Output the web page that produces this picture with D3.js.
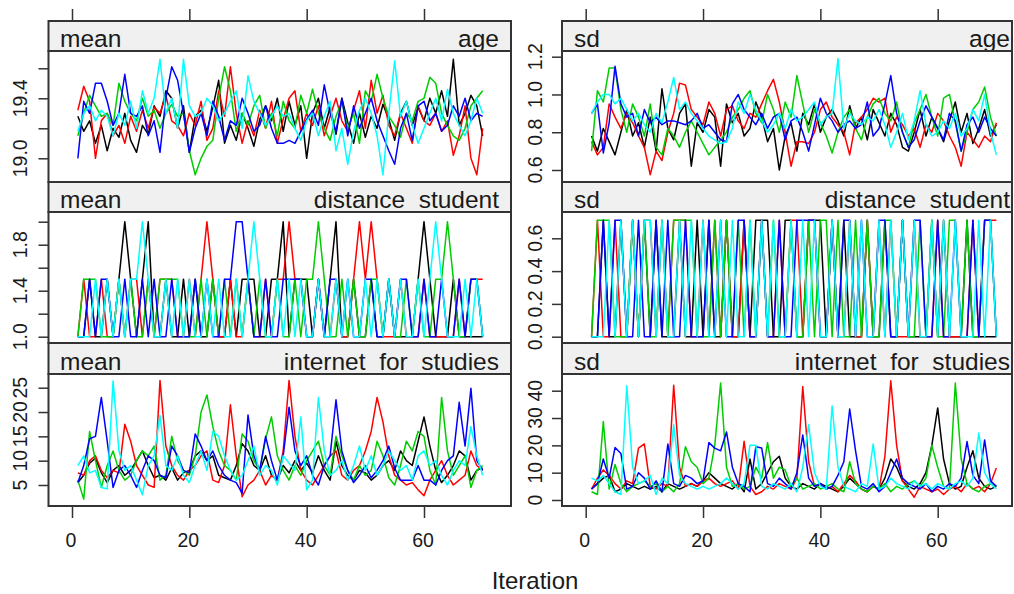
<!DOCTYPE html>
<html>
<head>
<meta charset="utf-8">
<script src="https://cdn.jsdelivr.net/npm/d3@7"></script>
<style>
  body { margin: 0; background: #fff; }
  text { font-family: "Liberation Sans", Arial, sans-serif; fill: #1a1a1a; }
</style>
</head>
<body>
<div id="chart"></div>
<script>
// chains: black, red, green, blue, cyan (R's old default palette)
const chainColors = ['#000000', '#ff0000', '#00cd00', '#0000ff', '#00ffff'];

const xTicks = [0, 20, 40, 60];
const statNames = ['mean', 'sd'];
const varNames = ['age', 'distance  student', 'internet  for  studies'];

// mean of age, one array per chain (iterations 1..70)
const meanAge = [
  [19.28,19.18,19.25,19.10,19.22,19.05,19.20,19.14,19.30,19.12, 19.04,19.22,19.16,19.35,19.28,19.45,19.40,19.20,19.35,19.04,
   19.28,19.32,19.18,19.34,19.52,19.10,19.22,19.12,19.30,19.20, 19.08,19.26,19.35,19.25,19.40,19.18,19.38,19.22,19.35,19.00,
   19.30,19.40,19.20,19.34,19.16,19.40,19.24,19.10,19.30,19.14, 19.28,19.20,19.36,19.26,19.12,19.30,19.38,19.22,19.34,19.25,
   19.40,19.30,19.45,19.28,19.66,19.22,19.30,19.42,19.35,19.15],
  [19.32,19.48,19.38,19.00,19.25,19.30,19.15,19.22,19.10,19.28, 19.18,19.32,19.20,19.34,19.30,19.42,19.25,19.22,19.15,19.30,
   19.22,19.38,19.12,19.20,19.45,19.28,19.61,19.30,19.10,19.25, 19.15,19.32,19.20,19.38,19.10,19.26,19.40,19.45,19.18,19.30,
   19.22,19.35,19.15,19.28,19.40,19.25,19.18,19.32,19.45,19.20, 19.52,19.30,19.42,19.22,19.15,19.30,19.20,19.10,19.35,19.25,
   19.22,19.30,19.18,19.25,19.02,19.15,19.35,19.00,18.89,19.20],
  [19.15,19.30,19.42,19.35,19.28,19.30,19.22,19.50,19.38,19.30, 19.25,19.40,19.28,19.32,19.20,19.30,19.36,19.28,19.30,19.05,
   18.89,19.00,19.08,19.12,19.40,19.61,19.45,19.18,19.30,19.22, 19.35,19.42,19.20,19.30,19.15,19.38,19.25,19.20,19.42,19.30,
   19.46,19.30,19.20,19.12,19.28,19.38,19.20,19.30,19.10,19.45, 19.38,19.56,19.40,19.28,19.22,19.14,19.30,19.25,19.38,19.40,
   19.54,19.50,19.30,19.22,19.15,19.12,19.20,19.35,19.40,19.45],
  [19.00,19.38,19.30,19.50,19.50,19.38,19.22,19.30,19.56,19.30, 19.28,19.35,19.15,19.25,19.04,19.40,19.61,19.52,19.30,19.04,
   19.20,19.30,19.15,19.38,19.28,19.12,19.25,19.22,19.40,19.30, 19.18,19.22,19.35,19.20,19.10,19.10,19.12,19.10,19.18,19.26,
   19.32,19.22,19.49,19.30,19.18,19.40,19.15,19.35,19.20,19.30, 19.40,19.25,19.15,19.05,18.96,19.20,19.30,19.12,19.35,19.38,
   19.25,19.30,19.18,19.22,19.35,19.28,19.40,19.25,19.30,19.28],
  [19.18,19.30,19.35,19.25,19.32,19.28,19.15,19.30,19.22,19.38, 19.20,19.45,19.30,19.40,19.66,19.30,19.40,19.20,19.66,19.35,
   19.28,19.30,19.40,19.35,19.25,19.30,19.38,19.45,19.20,19.55, 19.38,19.30,19.22,19.28,19.35,19.28,19.30,19.20,19.12,19.25,
   19.30,19.15,19.28,19.38,19.05,19.20,18.96,19.18,19.32,19.40, 19.30,19.15,18.89,19.30,19.65,19.28,19.38,19.22,19.10,19.20,
   19.30,19.40,19.25,19.46,19.30,19.22,19.15,19.25,19.40,19.30]
];

// sd of age
const sdAge = [
  [0.78,0.70,0.82,0.75,0.68,0.80,0.92,0.78,0.85,0.72, 0.88,0.70,1.03,0.82,0.76,0.90,0.95,0.62,0.85,0.80,
   0.92,0.88,0.62,0.95,0.85,0.90,0.78,0.82,0.96,0.88, 0.75,0.82,0.60,0.78,0.85,0.70,0.90,0.84,0.95,0.80,
   0.88,0.92,0.86,0.78,0.94,0.82,0.88,0.76,0.92,0.85, 0.78,0.90,0.84,0.72,0.70,0.80,0.92,0.78,0.88,0.82,
   0.75,0.86,0.96,0.80,0.90,0.74,0.82,0.92,0.78,0.84],
  [0.75,0.68,0.72,0.95,0.88,0.82,0.90,0.85,0.78,0.72, 0.575,0.70,0.65,0.80,0.90,1.06,1.05,0.92,0.88,0.84,
   0.96,0.90,0.78,0.92,0.94,0.86,0.82,0.90,0.88,0.95, 1.02,1.08,0.96,0.80,0.62,0.75,0.75,0.74,0.80,0.92,
   0.96,0.88,0.84,0.80,0.68,0.85,0.88,0.92,0.98,0.96, 0.98,0.80,0.88,0.84,0.78,0.82,0.72,0.84,0.80,0.90,
   0.86,0.78,0.72,0.62,0.80,0.76,0.72,0.78,0.75,0.85],
  [0.70,1.02,0.96,1.14,1.14,0.92,0.80,0.95,0.88,0.78, 0.95,0.72,0.68,0.82,0.78,0.72,0.80,0.86,0.80,0.74,
   0.68,0.72,0.76,0.80,0.88,0.92,0.98,1.02,0.90,0.85, 1.00,0.92,0.80,0.96,0.88,1.10,0.95,0.80,0.92,0.85,
   0.78,0.69,0.80,0.88,0.92,0.82,0.76,0.88,0.95,0.98, 0.90,0.86,0.96,0.80,0.72,0.85,0.92,1.00,0.88,0.78,
   0.98,1.00,0.85,0.70,0.80,0.92,0.96,1.04,0.88,0.78],
  [0.90,0.95,0.69,0.85,1.15,0.95,0.88,0.90,0.78,0.92, 0.85,0.88,0.84,0.86,0.86,0.85,0.84,0.86,0.90,0.82,
   0.84,0.80,0.76,0.75,0.95,1.00,0.92,0.88,0.84,0.90, 0.82,0.88,0.90,0.76,0.86,0.88,0.80,0.70,0.84,0.98,
   0.90,0.86,0.80,0.84,0.86,0.82,0.84,0.96,0.78,0.82, 0.95,1.10,0.90,0.80,0.72,0.76,0.86,0.94,0.88,0.82,
   0.76,0.90,0.86,0.70,0.84,0.88,0.80,0.88,0.82,0.78],
  [0.90,0.96,1.00,1.00,0.95,0.98,0.92,0.86,0.90,0.84, 0.80,0.90,0.85,0.96,1.09,0.92,0.96,0.90,0.86,0.82,
   0.78,0.76,0.74,0.75,0.82,0.96,0.90,1.00,0.92,0.86, 0.80,0.84,0.90,0.82,0.92,0.86,0.88,0.92,0.96,0.84,
   0.88,0.90,1.19,0.82,0.90,0.86,0.84,0.88,0.86,0.92, 0.84,0.72,0.80,0.90,0.76,0.86,1.02,0.84,0.78,0.80,
   0.86,0.82,0.90,0.78,0.82,0.92,0.86,1.00,0.80,0.68]
];

// mean of distance student (two imputed values coded 1/2)
const meanDistance = [
  [1,1,1.5,1,1,1.5,1,1.5,2,1.5, 1,1.5,2,1,1,1.5,1,1,1.5,1, 1.5,1,1,1.5,1,1,1.5,1,1.5,1.5, 1.5,1,1,1.5,1.5,2,1,1.5,1.5,1.5,
   1,1.5,1,1.5,2,1,1,1.5,1,1, 1.5,1,1,1.5,1,1,1,1,1.5,2, 1.5,1,1,1,1.5,1,1,1,1,1],
  [1,1.5,1,1,1.5,1,1,1.5,1,1.5, 1.5,1,1.5,1,1.5,1.5,1.5,1,1,1.5, 1,1.5,2,1.5,1,1,1.5,1,1,1.5, 1,1,1.5,1,1.5,1.5,2,1.5,1.5,1,
   1,1.5,1,1,1.5,1,1,1.5,2,1.5, 2,1.5,1,1,1,1.5,1,1,1,1.5, 1,1,1,1,1,1.5,1,1.5,1.5,1.5],
  [1,1.5,1.5,1.5,1,1,1,1.5,1,1.5, 1,1,1.5,1,1.5,1.5,1.5,1.5,1,1, 1,1.5,1,1.5,1,1.5,1,1.5,1,1.5, 1,1.5,1,1,1.5,1,1,1.5,1,1.5,
   1.5,2,1.5,1,1,1.5,1,1.5,1,1, 1.5,1.5,1,1.5,1,1,1.5,1,1.5,1, 1,1.5,1.5,2,1.5,1,1,1.5,1.5,1],
  [1,1,1.5,1,1.5,1.5,1,1,1.5,1, 1,1.5,1,1.5,1,1,1.5,1,1,1, 1.5,1,1.5,1,1,1.5,1.5,2,2,1.5, 1,1,1.5,1,1,1.5,1.5,1.5,1.5,1,
   1,1.5,1,1.5,1.5,1,1.5,1,1,1.5, 1.5,1,1,1.5,1,1.5,1.5,1,1,1.5, 1,1,1.5,1,1,1.5,1,1.5,1.5,1],
  [1,1,1,1.5,1,1.5,1,1.5,1,1.5, 1.5,2,1.5,1,1,1.5,1,1.5,1,1.5, 1,1,1.5,1,1.5,1,1,1.5,1,1.5, 2,1.5,1,1,1.5,1,1.5,1,1.5,1,
   1,1.5,1,1,1.5,1,1.5,1,1,1.5, 1,1.5,1,1.5,1,1.5,1,1,1.5,1, 1.5,2,1.5,1,1,1,1.5,1,1.5,1]
];

// sd of distance student
const sdDistance = [
  [0,0,.71,0,0,.71,0,.71,0,.71, 0,.71,0,0,0,.71,0,0,.71,0, .71,0,0,.71,0,0,.71,0,.71,.71, .71,0,0,.71,.71,0,0,.71,.71,.71,
   0,.71,0,.71,0,0,0,.71,0,0, .71,0,0,.71,0,0,0,0,.71,0, .71,0,0,0,.71,0,0,0,0,0],
  [0,.71,0,0,.71,0,0,.71,0,.71, .71,0,.71,0,.71,.71,.71,0,0,.71, 0,.71,0,.71,0,0,.71,0,0,.71, 0,0,.71,0,.71,.71,0,.71,.71,0,
   0,.71,0,0,.71,0,0,.71,0,.71, 0,.71,0,0,0,.71,0,0,0,.71, 0,0,0,0,0,.71,0,.71,.71,.71],
  [0,.71,.71,.71,0,0,0,.71,0,.71, 0,0,.71,0,.71,.71,.71,.71,0,0, 0,.71,0,.71,0,.71,0,.71,0,.71, 0,.71,0,0,.71,0,0,.71,0,.71,
   .71,0,.71,0,0,.71,0,.71,0,0, .71,.71,0,.71,0,0,.71,0,.71,0, 0,.71,.71,0,.71,0,0,.71,.71,0],
  [0,0,.71,0,.71,.71,0,0,.71,0, 0,.71,0,.71,0,0,.71,0,0,0, .71,0,.71,0,0,.71,.71,0,0,.71, 0,0,.71,0,0,.71,.71,.71,.71,0,
   0,.71,0,.71,.71,0,.71,0,0,.71, .71,0,0,.71,0,.71,.71,0,0,.71, 0,0,.71,0,0,.71,0,.71,.71,0],
  [0,0,0,.71,0,.71,0,.71,0,.71, .71,0,.71,0,0,.71,0,.71,0,.71, 0,0,.71,0,.71,0,0,.71,0,.71, 0,.71,0,0,.71,0,.71,0,.71,0,
   0,.71,0,0,.71,0,.71,0,0,.71, 0,.71,0,.71,0,.71,0,0,.71,0, .71,0,.71,0,0,0,.71,0,.71,0]
];

// mean of internet for studies
const meanInternet = [
  [5.5,7,9.5,10.5,7.5,5.5,8,9,7,8, 10,12,9,6.5,7,6,8.5,6,7.5,8, 11,12,10,11,7,6.5,6,9,13.5,12, 9,8,11,7,6,9,7.5,10,8,9.5,
   7.5,11,8,6,14,9,7,6,8,7.5, 6,7,9,10,8,12,10,9,14,19, 13,8,5.5,7,9,12,11,6,8,8.5],
  [7.5,7,10,11,8,6.5,8,7.5,17.5,14, 9,7,5,4.5,26.5,13,9,7,6,8, 9,11,12,6,5.5,9,21.5,11,2.6,5, 6,8,5,7,6,12,26.5,15,8,6,
   5,7,9,11,12,7,6,8,9,12, 16,23,18,11,7,6,5,5.5,4,2.8, 6,8,10,7,5,6,7,12,9,8],
  [6,2.1,16,10,4.5,9,12,8,6,7, 10,12,11,13,6,7,15,10,8,7, 11,20,23.5,17,12,9,8,6,15.5,14, 10,8,14.5,19,11,8,6,9,7,10,
   12,14,9,7,15,11,8,6,9,7, 8,14,11,6.5,5,9,14,12,16,15, 8,5,23,12,7,9,11,4.5,8,9],
  [5.5,9,14.5,15,23,14,4.5,8,9,7, 4.5,8,11,10,7,6.5,13,11,8,7.5, 15.5,13,10,12,9,7,6,5.5,3.3,19.4, 11,8,15,10,6,11,21,12,9,11,
   7,5,9,11,22.5,12,8,5.5,7,9, 6.5,8,10,13,8.5,6,6,6,9,6, 6,5,8,10,11,22,13,24.9,10,8],
  [9,11,7.5,8,4.5,4.2,26.4,12,8,9, 6,3,9,11,19.3,9,8,11,7,5.5, 9,12,8,16,15,11,8,6,7,10, 13,7,9,8,5,11,9.5,8,19,4,
   6,23,12,7,8,10,6,9,13,8, 11,7,9,12,10,8,9,6,11,12, 9,10,7,5,8,10,9,17,11,7]
];

// sd of internet for studies
const sdInternet = [
  [4,6,8,9,3,4,6,5,4,5, 4,5,3,6,5,4,5,6,5,7, 10,8,6,5,4,6,3,15,4,6, 10,14,16,8,5,4,6,5,4,6,
   5,4,3,5,8,6,4,3,5,4, 8,15,12,7,5,4,6,10,20,33.7, 15,6,4,5,12,18,8,5,4,5],
  [4,8,11,9,6,4,7,6,19,20.5, 5,4,6,5,42,12,5,6,5,7, 8,6,5,6,7,4,21.5,5,2,3, 5,4,6,5,4,8,41.5,14,5,6,
   4,5,3,6,9,7,4,3,5,4, 16,43.6,20,7,4,1,5,4,3,4, 2,4,5,3,6,4,5,3,6,11.7],
  [3,2,28.7,4,13,6,3,5,6,7, 5,6,3,5,3,6,19.5,14,12,6, 8,20,42.8,12,5,6,4,5,12,8, 21,8,12,11,5,8,4,5,6,4,
   5,6,4,3,14,6,4,3,5,4, 6,3,5,4,6,7,5,8,20,12, 5,4,42.8,15,6,4,3,5,6,5],
  [4,6,15,8,19.2,17,4,5,10,8, 4,7,3,20.5,6,5,9,8,6,7, 21,19,18,24.9,12,6,5,3,19.5,19, 6,5,8,6,4,10,23.8,8,5,6,
   4,5,9,14,33.3,18,5,4,6,3, 5,10,15,8,6,5,4,6,3,5, 4,6,5,8,21.4,9,6,22,7,5],
  [8,7,9,6,3,2,41.8,12,6,7, 9,2,8,6,27.5,9,6,5,4,5, 4,5,6,8,6,4,6,20,20,5, 4,6,5,4,6,3,12,27.5,10,5,
   4,34.4,12,5,4,3,6,5,20.5,4, 5,8,6,5,4,7,5,6,4,6, 5,4,6,7,5,8,24.5,10,6,4]
];

// y ticks and their labels per panel
const meanAgeTicks = [19.0, 19.2, 19.4, 19.6];
const meanAgeLabels = ['19.0', '', '19.4', ''];
const sdAgeTicks = [0.6, 0.8, 1.0, 1.2];
const sdAgeLabels = ['0.6', '0.8', '1.0', '1.2'];
const meanDistTicks = [1.0, 1.2, 1.4, 1.6, 1.8, 2.0];
const meanDistLabels = ['1.0', '', '1.4', '', '1.8', ''];
const sdDistTicks = [0.0, 0.2, 0.4, 0.6];
const sdDistLabels = ['0.0', '0.2', '0.4', '0.6'];
const meanNetTicks = [5, 10, 15, 20, 25];
const meanNetLabels = ['5', '10', '15', '20', '25'];
const sdNetTicks = [0, 10, 20, 30, 40];
const sdNetLabels = ['0', '10', '20', '30', '40'];

// layout
const W = 1014, H = 594;
const cols = [
  { x0: 48.5, x1: 511, zero: 72, sixty: 424, labX: 27, textL: 60, textR: 499 },
  { x0: 562, x1: 1012, zero: 585.7, sixty: 937.7, labX: 541.5, textL: 574, textR: 1010 }
];
const rows = [
  { s0: 21, p0: 51, p1: 182 },
  { s0: 182, p0: 212, p1: 343 },
  { s0: 343, p0: 374, p1: 506 }
];

const panels = [
  { col: 0, row: 0, data: meanAge, ticks: meanAgeTicks, labels: meanAgeLabels, dom: [19.0, 19.6], rng: [158.3, 68.3] },
  { col: 1, row: 0, data: sdAge, ticks: sdAgeTicks, labels: sdAgeLabels, dom: [0.6, 1.2], rng: [170, 56.7] },
  { col: 0, row: 1, data: meanDistance, ticks: meanDistTicks, labels: meanDistLabels, dom: [1.0, 2.0], rng: [336.7, 221.7] },
  { col: 1, row: 1, data: sdDistance, ticks: sdDistTicks, labels: sdDistLabels, dom: [0, 0.6], rng: [336.7, 238.3] },
  { col: 0, row: 2, data: meanInternet, ticks: meanNetTicks, labels: meanNetLabels, dom: [5, 25], rng: [485, 387.7] },
  { col: 1, row: 2, data: sdInternet, ticks: sdNetTicks, labels: sdNetLabels, dom: [0, 40], rng: [500, 390.7] }
];

const svg = d3.select('#chart').append('svg')
  .attr('width', W)
  .attr('height', H);

const frameColor = '#333';

panels.forEach((p, idx) => {
  const col = cols[p.col];
  const row = rows[p.row];
  const x = d3.scaleLinear().domain([0, 60]).range([col.zero, col.sixty]);
  const y = d3.scaleLinear().domain(p.dom).range(p.rng);

  // strip
  svg.append('rect')
    .attr('x', col.x0).attr('y', row.s0)
    .attr('width', col.x1 - col.x0).attr('height', row.p0 - row.s0)
    .attr('fill', '#f0f0f0')
    .attr('stroke', frameColor).attr('stroke-width', 2);

  svg.append('text')
    .attr('x', col.textL).attr('y', row.p0 - 4.5)
    .attr('font-size', 24.5)
    .text(statNames[p.col]);

  svg.append('text')
    .attr('x', col.textR).attr('y', row.p0 - 4.5)
    .attr('text-anchor', 'end')
    .attr('font-size', 24.5)
    .style('white-space', 'pre')
    .text(varNames[p.row]);

  // clip for data
  const clipId = 'clip' + idx;
  svg.append('clipPath').attr('id', clipId)
    .append('rect')
    .attr('x', col.x0).attr('y', row.p0)
    .attr('width', col.x1 - col.x0).attr('height', row.p1 - row.p0);

  const line = d3.line()
    .x((d, i) => x(i + 1))
    .y(d => y(d));

  const g = svg.append('g').attr('clip-path', `url(#${clipId})`);
  p.data.forEach((series, k) => {
    g.append('path')
      .datum(series)
      .attr('d', line)
      .attr('fill', 'none')
      .attr('stroke', chainColors[k])
      .attr('stroke-width', 1.5)
      .attr('stroke-linejoin', 'round');
  });

  // panel frame
  svg.append('rect')
    .attr('x', col.x0).attr('y', row.p0)
    .attr('width', col.x1 - col.x0).attr('height', row.p1 - row.p0)
    .attr('fill', 'none')
    .attr('stroke', frameColor).attr('stroke-width', 2);

  // y axis ticks
  const yAxis = svg.append('g')
    .attr('transform', `translate(${col.x0},0)`)
    .call(d3.axisLeft(y).tickValues(p.ticks).tickSize(10).tickFormat(''));
  yAxis.select('.domain').remove();
  yAxis.selectAll('line').attr('stroke', frameColor).attr('stroke-width', 1.5);

  // y tick labels, rotated like lattice
  p.ticks.forEach((v, i) => {
    if (!p.labels[i]) return;
    svg.append('text')
      .attr('transform', `translate(${col.labX},${y(v)}) rotate(-90)`)
      .attr('text-anchor', 'middle')
      .attr('font-size', 19.5)
      .text(p.labels[i]);
  });

  // top ticks above the first row, bottom ticks + labels under last row
  if (p.row === 0) {
    const top = svg.append('g')
      .attr('transform', `translate(0,${row.s0})`)
      .call(d3.axisTop(x).tickValues(xTicks).tickSize(12).tickFormat(''));
    top.select('.domain').remove();
    top.selectAll('line').attr('stroke', frameColor).attr('stroke-width', 1.5);
  }
  if (p.row === 2) {
    const bottom = svg.append('g')
      .attr('transform', `translate(0,${row.p1})`)
      .call(d3.axisBottom(x).tickValues(xTicks).tickSize(12).tickFormat(''));
    bottom.select('.domain').remove();
    bottom.selectAll('line').attr('stroke', frameColor).attr('stroke-width', 1.5);

    xTicks.forEach(t => {
      svg.append('text')
        .attr('x', x(t) - 1).attr('y', 547)
        .attr('text-anchor', 'middle')
        .attr('font-size', 19.5)
        .text(t);
    });
  }
});

svg.append('text')
  .attr('x', 535).attr('y', 589)
  .attr('text-anchor', 'middle')
  .attr('font-size', 24)
  .text('Iteration');
</script>
</body>
</html>
